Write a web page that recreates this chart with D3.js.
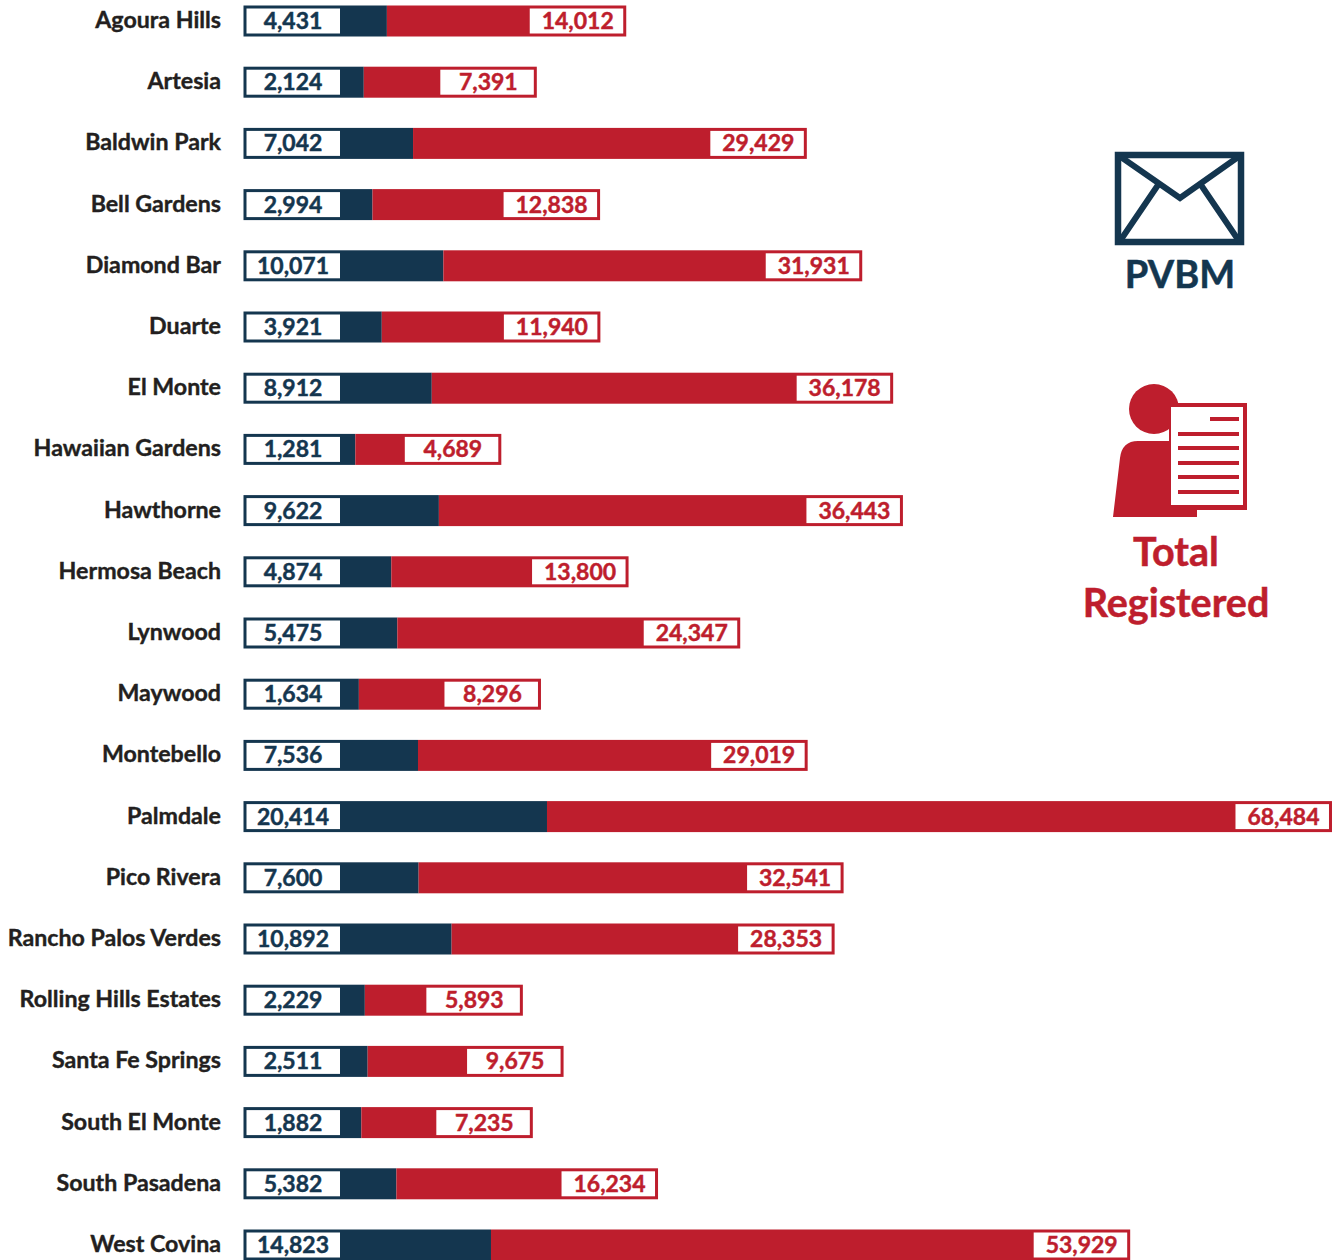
<!DOCTYPE html>
<html><head><meta charset="utf-8">
<script src="https://cdn.jsdelivr.net/npm/d3@7"></script>
<style>html,body{margin:0;padding:0;background:#fff;overflow:hidden}svg{display:block}text{font-family:Lato,"Open Sans",sans-serif;font-weight:700}</style>
</head><body><svg id="c" width="1338" height="1260"></svg>
<script>
const cities=["Agoura Hills","Artesia","Baldwin Park","Bell Gardens","Diamond Bar","Duarte","El Monte","Hawaiian Gardens","Hawthorne","Hermosa Beach","Lynwood","Maywood","Montebello","Palmdale","Pico Rivera","Rancho Palos Verdes","Rolling Hills Estates","Santa Fe Springs","South El Monte","South Pasadena","West Covina"];
const pvbm=[4431,2124,7042,2994,10071,3921,8912,1281,9622,4874,5475,1634,7536,20414,7600,10892,2229,2511,1882,5382,14823];
const registered=[14012,7391,29429,12838,31931,11940,36178,4689,36443,13800,24347,8296,29019,68484,32541,28353,5893,9675,7235,16234,53929];
const NAVY="#14364f",RED="#be1e2d";
const svg=d3.select("#c");
const fmt=d3.format(",");
const len=d3.scaleLinear().domain([0,68484]).range([0,686]);
const y=d3.scalePoint().domain(cities).range([21,1245]);
const barH=31, startX=342.5, leftX=243.5, boxW=99, sw=3;
const rows=cities.map((c,i)=>({c,p:pvbm[i],r:registered[i]}));

const g=svg.append("g").selectAll("g").data(rows).join("g").attr("transform",d=>`translate(0,${y(d.c)})`);
const navyEnd=d=>startX+len(d.p);
g.append("rect").attr("x",leftX).attr("y",-barH/2).attr("width",d=>navyEnd(d)-leftX).attr("height",barH).attr("fill",NAVY);
g.append("rect").attr("x",leftX+sw).attr("y",-barH/2+sw).attr("width",340-leftX-sw).attr("height",barH-2*sw).attr("fill","#fff");
g.append("rect").attr("x",navyEnd).attr("y",-barH/2).attr("width",d=>len(d.r)+boxW).attr("height",barH).attr("fill",RED);
g.append("rect").attr("x",d=>navyEnd(d)+len(d.r)+2.5).attr("y",-barH/2+sw).attr("width",boxW-2.5-sw).attr("height",barH-2*sw).attr("fill","#fff");
g.append("text").attr("x",293).attr("y",0).attr("dy","0.35em").attr("text-anchor","middle").attr("font-size",23).attr("fill",NAVY).attr("stroke",NAVY).attr("stroke-width",0.45).text(d=>fmt(d.p));
g.append("text").attr("x",d=>navyEnd(d)+len(d.r)+boxW/2+1).attr("y",0).attr("dy","0.35em").attr("text-anchor","middle").attr("font-size",23).attr("fill",RED).attr("stroke",RED).attr("stroke-width",0.45).text(d=>fmt(d.r));

const ax=svg.append("g").attr("transform","translate(221,-1)").call(d3.axisLeft(y).tickSize(0).tickPadding(0));
ax.select(".domain").remove();
ax.selectAll("text").attr("font-size",23.2).attr("fill","#231f20").attr("stroke","#231f20").attr("stroke-width",0.4).style("font-family","Lato,sans-serif").style("font-weight",700);

// envelope icon
const env=svg.append("g").attr("fill","none").attr("stroke",NAVY).attr("stroke-width",6);
env.append("rect").attr("x",1118).attr("y",155).attr("width",123).attr("height",87).attr("stroke-width",6.5);
env.append("path").attr("d","M1118 155L1180 198L1241 155");
env.append("path").attr("d","M1158 185L1120 241M1201 185L1239 241");
svg.append("text").attr("x",1180).attr("y",288).attr("text-anchor","middle").attr("font-size",38).attr("fill",NAVY).attr("stroke",NAVY).attr("stroke-width",0.5).text("PVBM");

// registered icon
const ic=svg.append("g");
ic.append("circle").attr("cx",1154).attr("cy",409).attr("r",25).attr("fill",RED);
ic.append("path").attr("fill",RED).attr("d","M1113 517L1120 458Q1122 441 1138 441L1175 441L1197 500L1197 517Z");
ic.append("rect").attr("x",1169).attr("y",403).attr("width",78).attr("height",107).attr("fill",RED);
ic.append("rect").attr("x",1171).attr("y",407).attr("width",72).attr("height",98).attr("fill","#fff");
ic.append("path").attr("stroke",RED).attr("stroke-width",4).attr("d","M1210 419H1239M1178 434H1239M1178 448H1239M1178 463H1239M1178 477H1239M1178 492H1239");
svg.append("text").attr("x",1176).attr("y",566).attr("text-anchor","middle").attr("font-size",39.5).attr("fill",RED).attr("stroke",RED).attr("stroke-width",0.5).text("Total");
svg.append("text").attr("x",1176).attr("y",617).attr("text-anchor","middle").attr("font-size",39.5).attr("fill",RED).attr("stroke",RED).attr("stroke-width",0.5).text("Registered");
</script></body></html>
